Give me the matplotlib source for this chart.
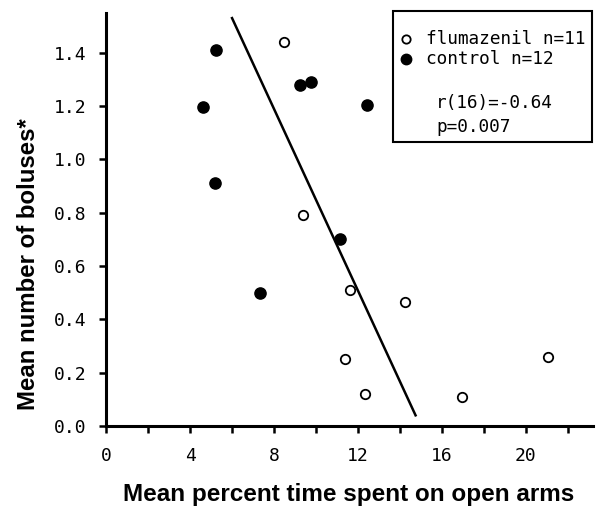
import matplotlib
matplotlib.use("Agg")
import matplotlib.pyplot as plt
from matplotlib.patches import Rectangle

# Data
flum_x = [8.5, 9.4, 11.6, 11.4, 12.35, 14.25, 21.05, 16.95]
flum_y = [1.44, 0.79, 0.51, 0.25, 0.12, 0.465, 0.26, 0.11]
ctrl_x = [5.25, 9.25, 9.75, 4.6, 12.45, 5.2, 11.15, 7.35]
ctrl_y = [1.41, 1.28, 1.29, 1.195, 1.205, 0.91, 0.70, 0.50]
fit_x = [6.0, 14.75]
fit_y = [1.53, 0.04]

x_ticks = [0, 4, 8, 12, 16, 20]
y_ticks = [0.0, 0.2, 0.4, 0.6, 0.8, 1.0, 1.2, 1.4]

fig = plt.figure(figsize=(6.0, 5.13), dpi=100)
ax = fig.add_axes([0.177, 0.1696, 0.811, 0.805])

ax.plot(fit_x, fit_y, color="black", lw=1.8, zorder=2)
ax.scatter(ctrl_x, ctrl_y, s=65, color="black", zorder=3)
ax.scatter(flum_x, flum_y, s=46, facecolor="white", edgecolor="black", linewidth=1.3, zorder=3)

ax.set_xlim(0, 23.2)
ax.set_ylim(0, 1.549)
ax.set_xticks(x_ticks)
ax.set_xticks([2, 6, 10, 14, 18, 22], minor=True)
ax.set_yticks(y_ticks)
ax.set_xticklabels([str(v) for v in x_ticks], family="DejaVu Sans Mono", fontsize=13)
ax.set_yticklabels([f"{v:.1f}" for v in y_ticks], family="DejaVu Sans Mono", fontsize=13)
for s in ["top", "right"]:
    ax.spines[s].set_visible(False)
for s in ["left", "bottom"]:
    ax.spines[s].set_linewidth(2.2)
ax.tick_params(which="both", direction="out", length=5, width=1.8)
ax.tick_params(axis="x", pad=10)
ax.tick_params(axis="y", pad=9)

ax.set_xlabel("Mean percent time spent on open arms", fontsize=17.5,
              family="Liberation Sans", fontweight="bold")
ax.xaxis.set_label_coords((348.5 - 106.5) / (593 - 106.5), (426 - 495) / (426 - 13))
ax.xaxis.label.set_va("center")
ax.set_ylabel("Mean number of boluses*", fontsize=17.3,
              family="Liberation Sans", fontweight="bold")
ax.yaxis.set_label_coords((29 - 106.5) / (593 - 106.5), (426 - 264) / (426 - 13))
ax.yaxis.label.set_va("center")

# Legend box
box = Rectangle((393 / 600, 1 - 142 / 513), (592 - 393) / 600, (142 - 11) / 513,
                transform=fig.transFigure, facecolor="white", edgecolor="black", lw=1.5, zorder=5)
fig.patches.append(box)
fig.lines.append(plt.Line2D([406 / 600], [1 - 39 / 513], transform=fig.transFigure, marker="o",
                            ms=6, mfc="white", mec="black", mew=1.3, ls="none", zorder=6))
fig.lines.append(plt.Line2D([406 / 600], [1 - 59 / 513], transform=fig.transFigure, marker="o",
                            ms=7.5, mfc="black", mec="black", ls="none", zorder=6))
tkw = dict(family="DejaVu Sans Mono", fontsize=12.8, va="center", ha="left", zorder=7)
fig.text(426 / 600, 1 - 39 / 513, "flumazenil n=11", **tkw)
fig.text(426 / 600, 1 - 59 / 513, "control n=12", **tkw)
fig.text(436 / 600, 1 - 103 / 513, "r(16)=-0.64", **tkw)
fig.text(436 / 600, 1 - 127 / 513, "p=0.007", **tkw)

fig.savefig("out.png", dpi=100)
